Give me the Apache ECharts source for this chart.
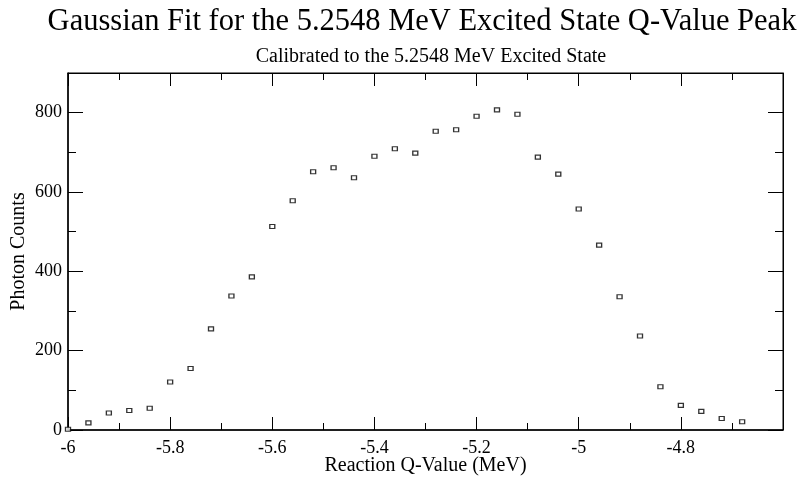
<!DOCTYPE html>
<html>
<head>
<meta charset="utf-8">
<script src="https://cdn.jsdelivr.net/npm/echarts@6/dist/echarts.min.js"></script>
<style>
  html, body { margin: 0; padding: 0; background: #fff; }
  #chart { width: 798px; height: 481px; }
</style>
</head>
<body>
<div id="chart"></div>
<script>
// Reaction Q-value bins (MeV) and photon counts per bin
const qValues = [
  -6.00, -5.96, -5.92, -5.88, -5.84, -5.80, -5.76, -5.72, -5.68, -5.64,
  -5.60, -5.56, -5.52, -5.48, -5.44, -5.40, -5.36, -5.32, -5.28, -5.24,
  -5.20, -5.16, -5.12, -5.08, -5.04, -5.00, -4.96, -4.92, -4.88, -4.84,
  -4.80, -4.76, -4.72, -4.68
];
const counts = [
  2, 18, 43, 49, 55, 121, 155, 255, 338, 386,
  513, 578, 651, 661, 636, 690, 709, 698, 753, 757,
  791, 807, 796, 688, 645, 557, 466, 336, 237, 109,
  62, 47, 29, 21
];

const titleText = 'Gaussian Fit for the 5.2548 MeV Excited State Q-Value Peak';
const subtitleText = 'Calibrated to the 5.2548 MeV Excited State';
const xTitle = 'Reaction Q-Value (MeV)';
const yTitle = 'Photon Counts';

const serif = '"Liberation Serif", "DejaVu Serif", serif';
const ink = '#000';

const chart = echarts.init(document.getElementById('chart'), null, { renderer: 'canvas' });

const tickIn = (len) => ({ show: true, inside: true, length: len, lineStyle: { color: ink, width: 1 } });
const minorIn = (len) => ({ show: true, splitNumber: 2, length: len, lineStyle: { color: ink, width: 1 } });

chart.setOption({
  animation: false,
  backgroundColor: '#fff',
  title: [
    { text: titleText, left: 417, top: 1, textAlign: 'center',
      textStyle: { fontFamily: serif, fontSize: 30.5, fontWeight: 'normal', color: ink } },
    { text: subtitleText, left: 426, top: 42, textAlign: 'center',
      textStyle: { fontFamily: serif, fontSize: 20, fontWeight: 'normal', color: ink } }
  ],
  grid: {
    left: 68, right: 15, top: 73, bottom: 51,
    outerBoundsMode: 'none', containLabel: false,
    show: true, borderColor: ink, borderWidth: 1
  },
  xAxis: [
    {
      type: 'value', min: -6, max: -4.6, interval: 0.2, position: 'bottom',
      axisLine: { show: true, onZero: false, lineStyle: { color: ink, width: 1.5 } },
      axisTick: tickIn(13), minorTick: minorIn(7), splitLine: { show: false },
      axisLabel: {
        fontFamily: serif, fontSize: 18, color: ink, margin: 9, showMaxLabel: false,
        formatter: (v) => String(Math.round(v * 10) / 10)
      },
      name: xTitle, nameLocation: 'middle', nameGap: 26, nameMoveOverlap: false,
      nameTextStyle: { fontFamily: serif, fontSize: 20, color: ink }
    },
    {
      type: 'value', min: -6, max: -4.6, interval: 0.2, position: 'top',
      axisLine: { show: true, onZero: false, lineStyle: { color: ink, width: 1 } },
      axisTick: tickIn(13), minorTick: minorIn(7), splitLine: { show: false },
      axisLabel: { show: false }
    }
  ],
  yAxis: [
    {
      type: 'value', min: 0, max: 900, interval: 200, position: 'left',
      axisLine: { show: true, onZero: false, lineStyle: { color: ink, width: 1.5 } },
      axisTick: tickIn(15), minorTick: minorIn(8), splitLine: { show: false },
      axisLabel: { fontFamily: serif, fontSize: 18, color: ink, margin: 6, showMaxLabel: false },
      name: yTitle, nameLocation: 'middle', nameGap: 39, nameMoveOverlap: false,
      nameTextStyle: { fontFamily: serif, fontSize: 20, color: ink }
    },
    {
      type: 'value', min: 0, max: 900, interval: 200, position: 'right',
      axisLine: { show: true, onZero: false, lineStyle: { color: ink, width: 1 } },
      axisTick: tickIn(15), minorTick: minorIn(8), splitLine: { show: false },
      axisLabel: { show: false }
    }
  ],
  series: [
    {
      type: 'scatter',
      xAxisIndex: 0, yAxisIndex: 0,
      data: qValues.map((q, i) => [q, counts[i]]),
      symbol: 'rect',
      symbolSize: [5, 4],
      itemStyle: { color: '#fff', borderColor: ink, borderWidth: 1.2 },
      clip: false
    }
  ]
});
</script>
</body>
</html>
